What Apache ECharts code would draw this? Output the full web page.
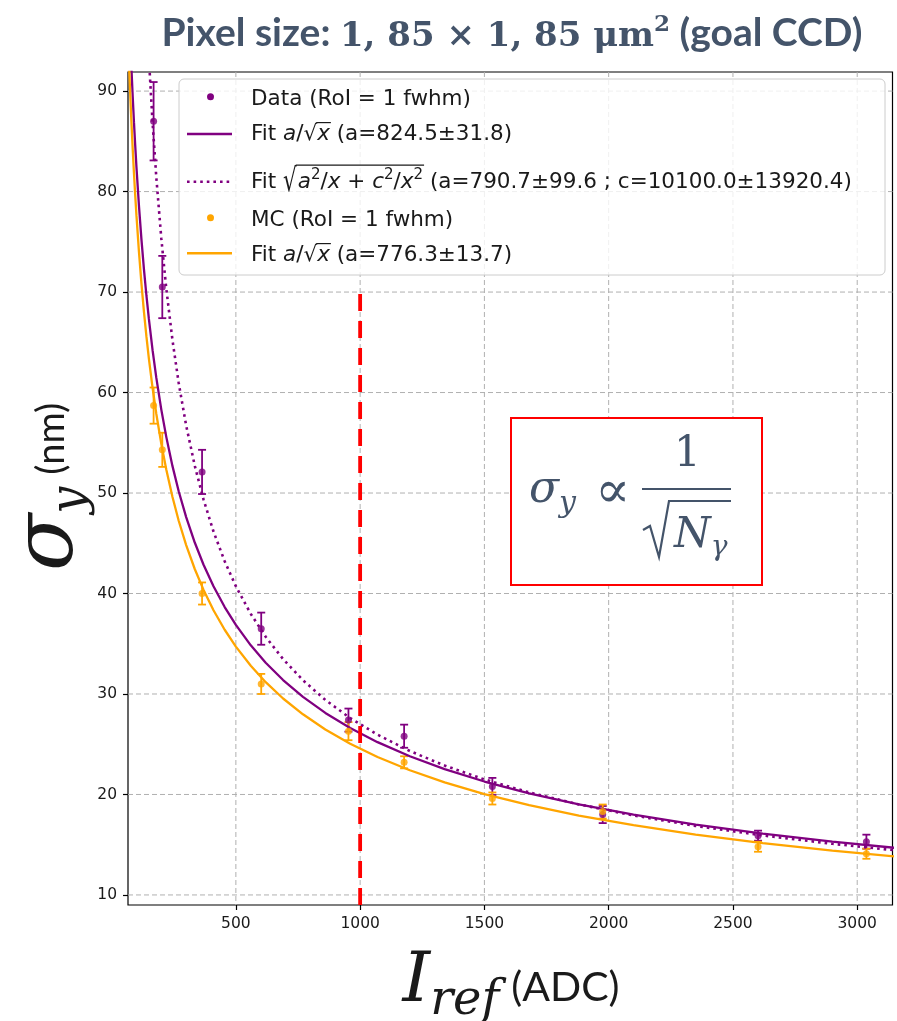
<!DOCTYPE html>
<html>
<head>
<meta charset="utf-8">
<script src="https://cdn.jsdelivr.net/npm/echarts@6/dist/echarts.min.js"></script>
<style>
  html, body { margin: 0; padding: 0; background: #fff; }
  #chart { width: 897px; height: 1021px; }
</style>
</head>
<body>
<div id="chart"></div>
<script>
// Beam position resolution versus reference intensity
const refIntensity = [169, 204, 364, 602, 953, 1177, 1532, 1976, 2601, 3037];
const dataSigma    = [87.0, 70.5, 52.1, 36.5, 27.4, 25.8, 20.8, 18.0, 15.9, 15.3];
const dataErr      = [3.9, 3.1, 2.2, 1.6, 1.15, 1.15, 0.85, 0.85, 0.5, 0.7];
const mcSigma      = [58.7, 54.3, 40.0, 31.0, 26.3, 23.2, 19.6, 18.3, 14.8, 14.1];
const mcErr        = [1.8, 1.7, 1.1, 1.0, 0.9, 0.6, 0.6, 0.7, 0.5, 0.5];

// Fit parameters (as quoted in the legend)
const fitDataA = 824.5;
const fitDataQuadA = 790.7;
const fitDataQuadC = 10100.0;
const fitMcA = 776.3;

// Abscissae at which the fit curves are evaluated
const fitX = [60, 64, 68, 72, 76, 80, 85, 90, 95, 100, 110, 120, 130, 140, 150, 165, 180, 200,
              220, 245, 270, 300, 335, 370, 410, 455, 500, 560, 620, 690, 770, 860, 960, 1070,
              1200, 1340, 1500, 1680, 1880, 2100, 2350, 2620, 2900, 3150];

// Reference marker at 1000 ADC
const markerX = 1000;
const markerTop = 70.2;

const xTicks = [500, 1000, 1500, 2000, 2500, 3000];
const yTicks = [10, 20, 30, 40, 50, 60, 70, 80, 90];
const xMin = 66, xMax = 3142;
const yMin = 9.0, yMax = 91.9;

const PURPLE = '#800080';
const ORANGE = '#FFA500';
const RED = '#FF0000';
const SLATE = '#44546A';
const INK = '#1a1a1a';

const fitCurve = f => fitX.map(x => [x, f(x)]);
const dataFit = fitCurve(x => fitDataA / Math.sqrt(x));
const dataQuadFit = fitCurve(x => Math.sqrt(fitDataQuadA * fitDataQuadA / x + fitDataQuadC * fitDataQuadC / (x * x)));
const mcFit = fitCurve(x => fitMcA / Math.sqrt(x));

// ---------- text layout helpers (mixed fonts on a common baseline) ----------
const mctx = document.createElement('canvas').getContext('2d');
function fontStr(s) {
  return (s.italic ? 'italic ' : '') + (s.bold ? 'bold ' : '') + s.size + 'px "' + s.family + '"';
}
function baselineOffset(font, size) {
  mctx.font = font;
  mctx.textBaseline = 'alphabetic';
  const a = mctx.measureText('Hg').fontBoundingBoxAscent;
  mctx.textBaseline = 'middle';
  const m = mctx.measureText('Hg').fontBoundingBoxAscent;
  mctx.textBaseline = 'alphabetic';
  if (a === undefined || m === undefined) return 0.35 * size;
  return a - m;
}
function textWidth(t, font) { mctx.font = font; return mctx.measureText(t).width; }
function glyphAscent(t, font) { mctx.font = font; mctx.textBaseline = 'alphabetic'; return mctx.measureText(t).actualBoundingBoxAscent; }

// segs: {t, size, family, italic, bold, dy, dx, sy (vertical stretch), color} | {mark} | {space}
function layoutRun(segs, color, z) {
  let cx = 0;
  const out = [];
  const marks = {};
  segs.forEach(s => {
    if (s.mark) { marks[s.mark] = cx; return; }
    if (s.space) { cx += s.space; return; }
    const f = fontStr(s);
    const w = textWidth(s.t, f);
    const off = baselineOffset(f, s.size);
    const base = s.dy || 0;
    cx += (s.dx || 0);
    const el = {
      type: 'text', x: cx, y: base - off, z: z, silent: true,
      style: { text: s.t, font: f, fill: s.color || color, align: 'left', verticalAlign: 'middle',
               textAlign: 'left', textVerticalAlign: 'middle' }
    };
    if (s.sy) { el.scaleY = s.sy; el.originX = 0; el.originY = off; }
    out.push(el);
    cx += w;
  });
  return { children: out, width: cx, marks: marks };
}
function bar(x1, x2, y, color, w, z) {
  return { type: 'line', z: z, silent: true, shape: { x1: x1, y1: y, x2: x2, y2: y },
           style: { stroke: color, lineWidth: w } };
}

// ---------- legend ----------
const LF = 'DejaVu Sans';
const LS = 21.5;
const legendZ = 50;
const legendTextX = 251;
const legendRows = [105, 140, 188.3, 225.7, 261];
const legendEls = [];
legendEls.push({
  type: 'rect', z: legendZ, silent: true,
  shape: { x: 179, y: 79, width: 706, height: 196, r: 5 },
  style: { fill: 'rgba(255,255,255,0.8)', stroke: '#cccccc', lineWidth: 1 }
});
function legendRow(idx, segs, extra) {
  const run = layoutRun(segs, INK, legendZ + 1);
  const kids = run.children.slice();
  if (extra) extra(run, kids);
  legendEls.push({ type: 'group', x: legendTextX, y: legendRows[idx], children: kids });
}
const reg = t => ({ t: t, size: LS, family: LF });
const it = t => ({ t: t, size: LS, family: LF, italic: true });
const sup = t => ({ t: t, size: LS * 0.7, family: LF, dy: -LS * 0.42 });

legendRow(0, [reg('Data (RoI = 1 fwhm)')]);
legendRow(1, [reg('Fit '), it('a'), reg('/'), { mark: 'r0' }, reg('\u221A'), { mark: 'r1' }, it('x'), { mark: 'r2' },
              reg(' (a=824.5\u00B131.8)')], (run, kids) => {
  const top = glyphAscent('\u221A', fontStr(reg('x')));
  kids.push(bar(run.marks.r1 - 1, run.marks.r2 + 1, -top + 0.6, INK, 1.2, legendZ + 1));
});
legendRow(2, [reg('Fit '), { mark: 'r0' }, { t: '\u221A', size: LS, family: LF, sy: 1.5, dy: 3 }, { mark: 'r1' }, { space: 1 },
              it('a'), sup('2'), reg('/'), it('x'), reg(' + '), it('c'), sup('2'), reg('/'), it('x'), sup('2'), { mark: 'r2' },
              reg(' (a=790.7\u00B199.6 ; c=10100.0\u00B113920.4)')], (run, kids) => {
  const top = glyphAscent('\u221A', fontStr(reg('x'))) * 1.5 - 3;
  kids.push(bar(run.marks.r1 - 1, run.marks.r2 + 1, -top + 0.8, INK, 1.2, legendZ + 1));
});
legendRow(3, [reg('MC (RoI = 1 fwhm)')]);
legendRow(4, [reg('Fit '), it('a'), reg('/'), { mark: 'r0' }, reg('\u221A'), { mark: 'r1' }, it('x'), { mark: 'r2' },
              reg(' (a=776.3\u00B113.7)')], (run, kids) => {
  const top = glyphAscent('\u221A', fontStr(reg('x')));
  kids.push(bar(run.marks.r1 - 1, run.marks.r2 + 1, -top + 0.6, INK, 1.2, legendZ + 1));
});
// legend handles
const hx1 = 187, hx2 = 232, hxc = 210.5;
legendEls.push({ type: 'circle', z: legendZ + 1, silent: true, shape: { cx: hxc, cy: 96.7, r: 3.5 }, style: { fill: PURPLE } });
legendEls.push({ type: 'line', z: legendZ + 1, silent: true, shape: { x1: hx1, y1: 134, x2: hx2, y2: 134 }, style: { stroke: PURPLE, lineWidth: 2.4 } });
legendEls.push({ type: 'line', z: legendZ + 1, silent: true, shape: { x1: hx1, y1: 181.7, x2: hx2, y2: 181.7 }, style: { stroke: PURPLE, lineWidth: 2.6, lineDash: [2.6, 4] } });
legendEls.push({ type: 'circle', z: legendZ + 1, silent: true, shape: { cx: hxc, cy: 217.7, r: 3.5 }, style: { fill: ORANGE } });
legendEls.push({ type: 'line', z: legendZ + 1, silent: true, shape: { x1: hx1, y1: 253.3, x2: hx2, y2: 253.3 }, style: { stroke: ORANGE, lineWidth: 2.4 } });

// ---------- title ----------
function centeredRun(segs, cx, baseY, color, z) {
  const run = layoutRun(segs, color, z);
  return { run: run, el: { type: 'group', x: cx - run.width / 2, y: baseY, children: run.children } };
}
const titleRun = centeredRun([
  { t: 'Pixel size: ', size: 39, family: 'Lato', bold: true },
  { t: '1, 85 \u00D7 1, 85 \u03BCm', size: 34, family: 'DejaVu Serif', bold: true },
  { t: '2', size: 23, family: 'DejaVu Serif', bold: true, dy: -15 },
  { t: ' (goal CCD)', size: 39, family: 'Lato', bold: true }
], 512, 46, SLATE, 10);

// ---------- axis titles ----------
const yTitle = layoutRun([
  { t: '\u03C3', size: 84, family: 'DejaVu Serif', italic: true },
  { t: 'y', size: 48, family: 'DejaVu Serif', italic: true, dy: 12 },
  { space: 12 },
  { t: '(nm)', size: 38, family: 'Lato', dy: -8 }
], INK, 10);
const yTitleEl = {
  type: 'group', x: 72, y: 487 + yTitle.width / 2, rotation: Math.PI / 2,
  children: yTitle.children
};
const xTitleRun = centeredRun([
  { t: 'I', size: 70, family: 'DejaVu Serif', italic: true },
  { t: 'ref', size: 48, family: 'DejaVu Serif', italic: true, dy: 13 },
  { space: 12 },
  { t: '(ADC)', size: 41, family: 'Lato' }
], 511, 1001, INK, 10);

// ---------- proportionality annotation ----------
const boxEls = [];
boxEls.push({ type: 'rect', z: 40, silent: true, shape: { x: 511, y: 418, width: 251, height: 167 },
              style: { fill: '#ffffff', stroke: RED, lineWidth: 2 } });
const mf = (t, size, italic) => ({ t: t, size: size, family: 'DejaVu Serif', italic: !!italic });
const sigRun = layoutRun([mf('\u03C3', 44, true), { t: 'y', size: 30, family: 'DejaVu Serif', italic: true, dy: 10 }], SLATE, 41);
boxEls.push({ type: 'group', x: 529, y: 502, children: sigRun.children });
const propRun = layoutRun([mf('\u221D', 52)], SLATE, 41);
boxEls.push({ type: 'group', x: 595, y: 507, children: propRun.children });
const oneRun = layoutRun([mf('1', 42)], SLATE, 41);
boxEls.push({ type: 'group', x: 674, y: 466, children: oneRun.children });
boxEls.push(bar(642, 731, 489, SLATE, 2.2, 41));
// radical sign
boxEls.push({ type: 'polyline', z: 41, silent: true,
              shape: { points: [[643, 530], [650, 526], [659, 557], [669, 501], [731, 501]] },
              style: { stroke: SLATE, lineWidth: 2.2, fill: null, lineJoin: 'miter' } });
const nRun = layoutRun([mf('N', 42, true), { t: '\u03B3', size: 28, family: 'DejaVu Serif', italic: true, dy: 8 }], SLATE, 41);
boxEls.push({ type: 'group', x: 674, y: 546.5, children: nRun.children });

// ---------- series helpers ----------
function errorBars(name, values, errs, color) {
  return {
    type: 'custom', name: name, silent: true, z: 3,
    data: refIntensity.map((x, i) => [x, values[i] - errs[i], values[i] + errs[i]]),
    renderItem: function (params, api) {
      const x = api.value(0);
      const lo = api.coord([x, api.value(1)]);
      const hi = api.coord([x, api.value(2)]);
      const c = 4;
      const st = { stroke: color, lineWidth: 1.8 };
      return {
        type: 'group', children: [
          { type: 'line', shape: { x1: lo[0], y1: lo[1], x2: hi[0], y2: hi[1] }, style: st },
          { type: 'line', shape: { x1: lo[0] - c, y1: lo[1], x2: lo[0] + c, y2: lo[1] }, style: st },
          { type: 'line', shape: { x1: hi[0] - c, y1: hi[1], x2: hi[0] + c, y2: hi[1] }, style: st }
        ]
      };
    }
  };
}
function gridLines(ticks, vertical) {
  return {
    type: 'custom', silent: true, z: 0,
    data: ticks.map(v => vertical ? [v, yMin] : [xMin, v]),
    renderItem: function (params, api) {
      const cs = params.coordSys;
      const p = api.coord([api.value(0), api.value(1)]);
      const shape = vertical
        ? { x1: p[0], y1: cs.y, x2: p[0], y2: cs.y + cs.height }
        : { x1: cs.x, y1: p[1], x2: cs.x + cs.width, y2: p[1] };
      return { type: 'line', shape: shape, style: { stroke: '#b0b0b0', lineWidth: 1, lineDash: [5, 3] } };
    }
  };
}
const tickLabel = { fontFamily: 'DejaVu Sans', fontSize: 15.5, color: INK, formatter: v => String(v) };

const chart = echarts.init(document.getElementById('chart'), null, { renderer: 'canvas' });
chart.setOption({
  animation: false,
  backgroundColor: '#ffffff',
  grid: { left: 128, right: 4.5, top: 72, bottom: 116, show: true, borderColor: '#000', borderWidth: 1.2,
          backgroundColor: 'transparent' },
  xAxis: {
    type: 'value', min: xMin, max: xMax,
    axisLine: { show: false, onZero: false },
    axisTick: { show: true, customValues: xTicks, length: 5, lineStyle: { color: '#000', width: 1.2 } },
    axisLabel: { customValues: xTicks, margin: 11, ...tickLabel },
    splitLine: { show: false }
  },
  yAxis: {
    type: 'value', min: yMin, max: yMax,
    axisLine: { show: false, onZero: false },
    axisTick: { show: true, customValues: yTicks, length: 5, lineStyle: { color: '#000', width: 1.2 } },
    axisLabel: { customValues: yTicks, margin: 11, ...tickLabel },
    splitLine: { show: false }
  },
  series: [
    gridLines(xTicks, true),
    gridLines(yTicks, false),
    errorBars('Data errors', dataSigma, dataErr, PURPLE),
    { type: 'scatter', name: 'Data (RoI = 1 fwhm)', z: 3, symbol: 'circle', symbolSize: 7,
      itemStyle: { color: PURPLE }, data: refIntensity.map((x, i) => [x, dataSigma[i]]) },
    { type: 'line', name: 'Fit a/sqrt(x)', z: 3, symbol: 'none', clip: true, data: dataFit,
      lineStyle: { color: PURPLE, width: 2.3 } },
    { type: 'line', name: 'Fit sqrt(a2/x+c2/x2)', z: 3, symbol: 'none', clip: true, data: dataQuadFit,
      lineStyle: { color: PURPLE, width: 2.6, type: [2.6, 4] } },
    errorBars('MC errors', mcSigma, mcErr, ORANGE),
    { type: 'scatter', name: 'MC (RoI = 1 fwhm)', z: 3, symbol: 'circle', symbolSize: 7,
      itemStyle: { color: ORANGE }, data: refIntensity.map((x, i) => [x, mcSigma[i]]) },
    { type: 'line', name: 'Fit MC', z: 3, symbol: 'none', clip: true, data: mcFit,
      lineStyle: { color: ORANGE, width: 2.3 } },
    { type: 'line', name: 'Reference', z: 5, symbol: 'none', clip: true,
      data: [[markerX, yMin], [markerX, markerTop]],
      lineStyle: { color: RED, width: 3.8, type: [17, 10] } }
  ],
  graphic: { elements: [titleRun.el, yTitleEl, xTitleRun.el].concat(legendEls, boxEls) }
});
</script>
</body>
</html>
